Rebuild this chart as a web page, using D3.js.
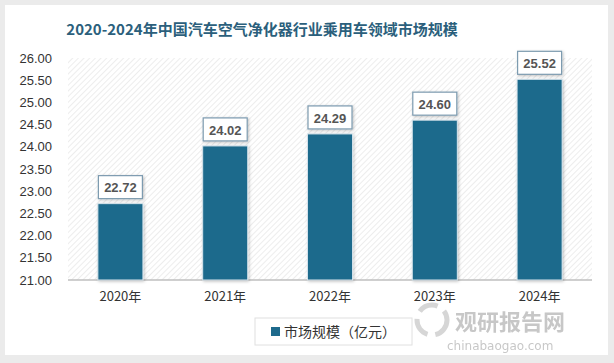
<!DOCTYPE html>
<html>
<head>
<meta charset="utf-8">
<script src="https://cdn.jsdelivr.net/npm/d3@7"></script>
<style>
  html, body { margin: 0; padding: 0; background: #ebebeb; }
  svg { display: block; }
</style>
</head>
<body>
<div id="chart"></div>
<script>
// chart data
const years = ["2020年", "2021年", "2022年", "2023年", "2024年"];
const values = [22.72, 24.02, 24.29, 24.60, 25.52];
const yTicks = [21, 21.5, 22, 22.5, 23, 23.5, 24, 24.5, 25, 25.5, 26];
const titleText = "2020-2024年中国汽车空气净化器行业乘用车领域市场规模";
const seriesName = "市场规模（亿元）";

const W = 614, H = 363;
const plot = { left: 68, right: 592, top: 58, bottom: 280 };
const barColor = "#1e6a8c";

const svg = d3.select("#chart").append("svg")
  .attr("width", W).attr("height", H);

const defs = svg.append("defs");
const hatch = defs.append("pattern")
  .attr("id", "hatch").attr("patternUnits", "userSpaceOnUse")
  .attr("width", 4).attr("height", 4)
  .attr("patternTransform", "rotate(45)");
hatch.append("rect").attr("width", 4).attr("height", 4).attr("fill", "#ffffff");
hatch.append("line").attr("x1", 0).attr("y1", 0).attr("x2", 0).attr("y2", 4)
  .attr("stroke", "#e6e6e6").attr("stroke-width", 1.4);

const shadow = defs.append("filter").attr("id", "shadow")
  .attr("x", "-30%").attr("y", "-10%").attr("width", "160%").attr("height", "130%");
shadow.append("feDropShadow").attr("dx", 1).attr("dy", 1)
  .attr("stdDeviation", 1.5).attr("flood-color", "#000").attr("flood-opacity", 0.25);

// card
svg.append("rect").attr("x", 5).attr("y", 5).attr("width", 603).attr("height", 350)
  .attr("fill", "#ffffff");

svg.append("text")
  .attr("x", 262).attr("y", 35)
  .attr("text-anchor", "middle")
  .attr("font-family", "'Noto Sans CJK SC', 'Noto Sans', sans-serif")
  .attr("font-size", 15).attr("font-weight", "bold")
  .attr("fill", "#2b5f7c")
  .text(titleText);

const x = d3.scaleBand().domain(years).range([plot.left, plot.right]).paddingInner(0.57).paddingOuter(0.285);
const y = d3.scaleLinear().domain([21, 26]).range([plot.bottom, plot.top]);

svg.append("rect")
  .attr("x", plot.left).attr("y", plot.top)
  .attr("width", plot.right - plot.left).attr("height", plot.bottom - plot.top)
  .attr("fill", "url(#hatch)");

// y axis labels
const yAxis = svg.append("g")
  .attr("transform", `translate(${plot.left},0)`)
  .call(d3.axisLeft(y).tickValues(yTicks).tickFormat(d3.format(".2f")).tickSize(0).tickPadding(16));
yAxis.select(".domain").remove();
yAxis.selectAll("text")
  .attr("font-family", "'Liberation Sans', Arial, sans-serif")
  .attr("font-size", 13).attr("fill", "#333");

// x axis
const xAxis = svg.append("g")
  .attr("transform", `translate(0,${plot.bottom})`)
  .call(d3.axisBottom(x).tickSize(0).tickPadding(12));
xAxis.select(".domain").attr("stroke", "#bfbfbf").attr("stroke-width", 1.5)
  .attr("d", `M${plot.left},0H${plot.right}`);
xAxis.selectAll("text")
  .attr("font-family", "'Noto Sans CJK SC', 'Liberation Sans', sans-serif")
  .attr("font-size", 13).attr("fill", "#333");

// bars
svg.append("g").selectAll("rect")
  .data(values)
  .join("rect")
  .attr("x", (d, i) => x(years[i]))
  .attr("y", d => y(d))
  .attr("width", x.bandwidth())
  .attr("height", d => plot.bottom - y(d))
  .attr("fill", barColor)
  .attr("stroke", "#d6e4ec").attr("stroke-width", 1)
  .attr("filter", "url(#shadow)");

// value labels
const lbl = svg.append("g").selectAll("g")
  .data(values)
  .join("g")
  .attr("transform", (d, i) => `translate(${x(years[i]) + x.bandwidth() / 2},${y(d) - 16})`);
lbl.append("rect")
  .attr("x", -22).attr("y", -12).attr("width", 44).attr("height", 23)
  .attr("fill", "#fff").attr("stroke", "#7d9bb0").attr("stroke-width", 1.2)
  .attr("filter", "url(#shadow)");
lbl.append("text")
  .attr("text-anchor", "middle").attr("dy", "0.36em")
  .attr("font-family", "'Liberation Sans', Arial, sans-serif")
  .attr("font-size", 13).attr("font-weight", "bold").attr("fill", "#555")
  .text(d => d3.format(".2f")(d));

// legend
const leg = svg.append("g");
leg.append("rect").attr("x", 255).attr("y", 318).attr("width", 157).attr("height", 27)
  .attr("fill", "#fff").attr("stroke", "#e0e0e0");
leg.append("rect").attr("x", 271).attr("y", 327).attr("width", 9).attr("height", 9)
  .attr("fill", barColor);
leg.append("text").attr("x", 284).attr("y", 337)
  .attr("font-family", "'Noto Sans CJK SC', sans-serif")
  .attr("font-size", 14).attr("fill", "#333")
  .text(seriesName);

// watermark
const wm = svg.append("g").attr("opacity", 0.55);
wm.append("circle").attr("cx", 432).attr("cy", 320).attr("r", 15)
  .attr("fill", "none").attr("stroke", "#b5b5b5").attr("stroke-width", 5)
  .attr("stroke-dasharray", "20 8");
wm.append("text").attr("x", 455).attr("y", 330)
  .attr("font-family", "'Noto Sans CJK SC', sans-serif")
  .attr("font-size", 22).attr("font-weight", "bold").attr("fill", "#9a9a9a")
  .text("观研报告网");
wm.append("text").attr("x", 447).attr("y", 350)
  .attr("font-family", "'DejaVu Sans', sans-serif")
  .attr("font-size", 12).attr("fill", "#9a9a9a")
  .text("chinabaogao.com");
</script>
</body>
</html>
